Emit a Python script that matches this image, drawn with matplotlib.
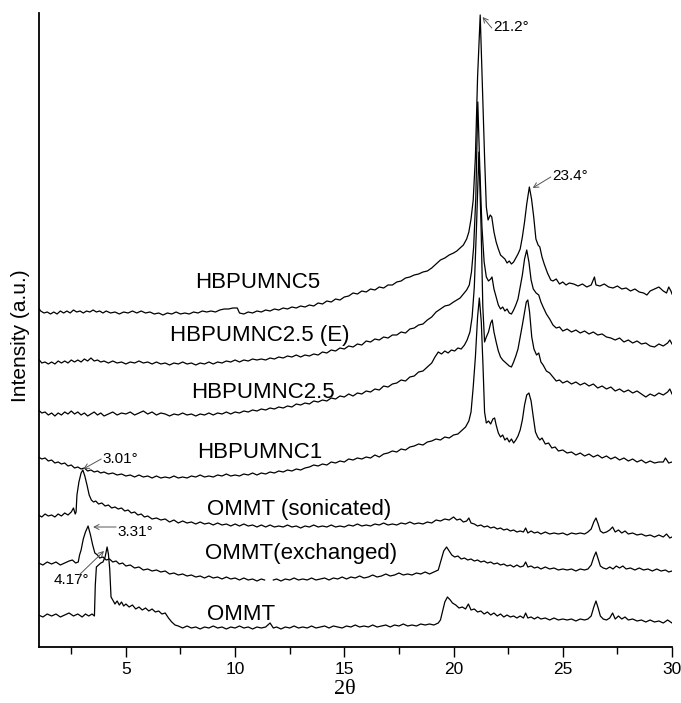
import numpy as np
import matplotlib
matplotlib.use("Agg")
import matplotlib.pyplot as plt

plt.rcParams["font.family"] = ["Liberation Sans", "DejaVu Sans"]

# XRD patterns, (2theta, stacked intensity a.u.)
ommt = [(1.0,32),(1.2,30),(1.4,33),(1.6,31),(1.8,33),(2.0,30),(2.2,32),(2.4,34),(2.6,31),(2.8,33),(3.0,30),(3.15,33),(3.3,31),(3.45,33),(3.56,31),(3.6,62),(3.65,80),(3.75,82),(3.85,84),(3.95,85),(4.05,90),(4.14,100),(4.2,93),(4.26,78),(4.32,50),(4.4,47),(4.5,43),(4.6,46),(4.7,42),(4.8,45),(4.9,41),(5.0,43),(5.15,40),(5.3,42),(5.45,38),(5.6,40),(5.75,37),(5.9,39),(6.05,36),(6.2,38),(6.35,35),(6.5,36),(6.65,33),(6.8,34),(6.95,29),(7.1,25),(7.25,22),(7.4,21),(7.6,19),(7.8,21),(8.0,19),(8.2,20),(8.4,18),(8.6,20),(8.8,19),(9.0,21),(9.2,19),(9.4,20),(9.6,18),(9.8,20),(10.0,19),(10.2,21),(10.4,19),(10.6,20),(10.8,18),(11.0,20),(11.2,19),(11.4,20),(11.6,24),(11.75,19),(11.9,20),(12.1,18),(12.3,20),(12.5,19),(12.7,21),(12.9,19),(13.1,20),(13.3,19),(13.5,21),(13.7,19),(13.9,20),(14.1,21),(14.3,19),(14.5,21),(14.7,20),(14.9,19),(15.1,21),(15.3,20),(15.5,22),(15.7,20),(15.9,21),(16.1,20),(16.3,22),(16.5,20),(16.7,21),(16.9,22),(17.1,20),(17.3,22),(17.5,21),(17.7,23),(17.9,21),(18.1,22),(18.3,21),(18.5,23),(18.7,22),(18.9,23),(19.1,22),(19.3,24),(19.4,27),(19.5,36),(19.6,45),(19.72,50),(19.85,47),(19.95,44),(20.1,42),(20.25,39),(20.4,40),(20.55,38),(20.68,43),(20.8,37),(20.95,38),(21.1,35),(21.25,36),(21.4,33),(21.55,35),(21.7,32),(21.85,34),(22.0,31),(22.15,33),(22.3,30),(22.45,32),(22.6,30),(22.75,31),(22.9,29),(23.05,31),(23.2,29),(23.3,34),(23.4,29),(23.55,30),(23.7,28),(23.85,30),(24.0,28),(24.2,29),(24.4,27),(24.6,29),(24.8,27),(25.0,28),(25.2,27),(25.4,28),(25.6,26),(25.8,28),(26.0,27),(26.15,28),(26.3,31),(26.42,40),(26.52,46),(26.62,39),(26.72,31),(26.85,28),(27.0,27),(27.15,29),(27.28,34),(27.4,28),(27.55,31),(27.7,28),(27.85,30),(28.0,27),(28.2,28),(28.4,26),(28.6,27),(28.8,25),(29.0,27),(29.2,25),(29.4,26),(29.6,24),(29.8,27),(30.0,24)]

ommt_exch = [(1.0,84),(1.2,82),(1.4,85),(1.6,83),(1.8,85),(2.0,82),(2.2,84),(2.4,86),(2.55,87),(2.7,84),(2.82,85),(2.88,92),(2.95,97),(3.05,108),(3.15,115),(3.27,121),(3.38,112),(3.48,102),(3.58,94),(3.7,92),(3.8,89),(3.95,90),(4.1,87),(4.25,88),(4.4,85),(4.55,86),(4.7,83),(4.85,84),(5.0,81),(5.2,82),(5.4,79),(5.6,80),(5.8,77),(6.0,78),(6.2,76),(6.4,77),(6.6,75),(6.8,76),(7.0,73),(7.2,74),(7.4,72),(7.6,73),(7.8,71),(8.0,72),(8.2,70),(8.4,71),(8.6,69),(8.8,71),(9.0,69),(9.2,70),(9.4,68),(9.6,70),(9.8,68),(10.0,69),(10.2,67),(10.4,69),(10.6,67),(10.8,68),(11.0,66),(11.2,68),(11.35,67),(11.36,None),(11.74,None),(11.75,67),(11.9,68),(12.1,66),(12.3,68),(12.5,67),(12.7,69),(12.9,67),(13.1,68),(13.3,67),(13.5,69),(13.7,67),(13.9,68),(14.1,69),(14.3,67),(14.5,69),(14.7,68),(14.9,70),(15.1,68),(15.3,70),(15.5,69),(15.7,71),(15.9,69),(16.1,70),(16.3,72),(16.5,70),(16.7,71),(16.9,73),(17.1,71),(17.3,72),(17.5,74),(17.7,72),(17.9,73),(18.1,72),(18.3,74),(18.5,73),(18.7,75),(18.9,73),(19.1,75),(19.3,77),(19.42,86),(19.55,96),(19.68,100),(19.8,96),(19.92,92),(20.05,90),(20.2,91),(20.35,88),(20.5,89),(20.65,87),(20.8,88),(20.95,86),(21.1,87),(21.25,85),(21.4,86),(21.55,84),(21.7,85),(21.85,83),(22.0,84),(22.15,82),(22.3,83),(22.45,81),(22.6,82),(22.75,80),(22.9,82),(23.05,80),(23.2,81),(23.3,85),(23.4,80),(23.55,81),(23.7,79),(23.85,80),(24.0,78),(24.2,80),(24.4,78),(24.6,79),(24.8,77),(25.0,78),(25.2,77),(25.4,78),(25.6,76),(25.8,78),(26.0,77),(26.15,78),(26.3,82),(26.42,90),(26.52,95),(26.62,88),(26.72,81),(26.85,79),(27.0,78),(27.15,80),(27.3,78),(27.45,81),(27.6,79),(27.75,81),(27.9,78),(28.1,79),(28.3,77),(28.5,79),(28.7,77),(28.9,78),(29.1,76),(29.3,78),(29.5,76),(29.7,77),(29.85,75),(30.0,76)]

ommt_son = [(1.0,132),(1.15,130),(1.3,133),(1.45,131),(1.6,132),(1.75,130),(1.9,133),(2.05,131),(2.2,134),(2.35,132),(2.5,135),(2.6,139),(2.68,133),(2.72,135),(2.76,152),(2.85,165),(2.95,174),(3.03,177),(3.12,171),(3.22,162),(3.32,152),(3.42,147),(3.52,145),(3.62,146),(3.75,143),(3.9,144),(4.05,141),(4.2,142),(4.35,139),(4.5,140),(4.65,138),(4.8,139),(4.95,136),(5.1,137),(5.25,134),(5.4,135),(5.55,132),(5.7,133),(5.85,130),(6.0,131),(6.2,128),(6.4,129),(6.6,127),(6.8,128),(7.0,125),(7.2,127),(7.4,124),(7.6,126),(7.8,124),(8.0,125),(8.2,123),(8.4,125),(8.6,123),(8.8,124),(9.0,122),(9.2,124),(9.4,122),(9.6,123),(9.8,121),(10.0,123),(10.2,121),(10.4,123),(10.6,121),(10.8,122),(11.0,120),(11.2,122),(11.4,120),(11.6,122),(11.8,120),(12.0,121),(12.2,120),(12.4,122),(12.6,120),(12.8,121),(13.0,119),(13.2,121),(13.4,120),(13.6,122),(13.8,120),(14.0,121),(14.2,120),(14.4,122),(14.6,120),(14.8,121),(15.0,120),(15.2,122),(15.4,121),(15.6,123),(15.8,121),(16.0,122),(16.2,121),(16.4,123),(16.6,122),(16.8,124),(17.0,122),(17.2,123),(17.4,122),(17.6,124),(17.8,123),(18.0,125),(18.2,123),(18.4,124),(18.6,123),(18.8,125),(19.0,124),(19.2,127),(19.4,126),(19.6,128),(19.8,127),(20.0,130),(20.15,127),(20.3,128),(20.45,125),(20.6,126),(20.7,129),(20.8,124),(20.95,123),(21.1,121),(21.25,122),(21.4,120),(21.55,121),(21.7,119),(21.85,120),(22.0,118),(22.15,119),(22.3,117),(22.45,118),(22.6,116),(22.75,117),(22.9,115),(23.05,116),(23.2,115),(23.3,119),(23.4,114),(23.55,116),(23.7,114),(23.85,115),(24.0,113),(24.2,115),(24.4,113),(24.6,114),(24.8,113),(25.0,114),(25.2,112),(25.4,114),(25.6,113),(25.8,114),(26.0,113),(26.15,115),(26.3,118),(26.42,125),(26.52,129),(26.62,123),(26.72,116),(26.85,114),(27.0,115),(27.15,117),(27.28,120),(27.4,115),(27.55,117),(27.7,114),(27.85,116),(28.0,113),(28.2,114),(28.4,112),(28.6,113),(28.8,111),(29.0,112),(29.2,110),(29.4,112),(29.6,110),(29.75,113),(29.9,109),(30.0,110)]

nc1 = [(1.0,190),(1.15,188),(1.3,189),(1.45,186),(1.6,187),(1.75,184),(1.9,185),(2.05,183),(2.2,184),(2.35,181),(2.5,182),(2.65,179),(2.8,180),(2.95,178),(3.1,179),(3.25,176),(3.4,177),(3.55,175),(3.7,176),(3.85,174),(4.0,175),(4.2,173),(4.4,174),(4.6,172),(4.8,173),(5.0,171),(5.2,172),(5.4,170),(5.6,172),(5.8,170),(6.0,171),(6.2,169),(6.4,171),(6.6,169),(6.8,170),(7.0,169),(7.2,171),(7.4,169),(7.6,170),(7.8,169),(8.0,171),(8.2,170),(8.4,172),(8.6,170),(8.8,171),(9.0,170),(9.2,172),(9.4,171),(9.6,173),(9.8,171),(10.0,172),(10.2,171),(10.4,173),(10.6,172),(10.8,174),(11.0,172),(11.2,174),(11.4,173),(11.6,175),(11.8,174),(12.0,176),(12.2,175),(12.4,177),(12.6,176),(12.8,178),(13.0,177),(13.2,179),(13.4,180),(13.6,182),(13.8,181),(14.0,183),(14.2,182),(14.4,185),(14.6,184),(14.8,186),(15.0,185),(15.2,188),(15.4,187),(15.6,189),(15.8,188),(16.0,190),(16.2,189),(16.4,192),(16.6,190),(16.8,193),(17.0,194),(17.2,196),(17.4,195),(17.6,198),(17.8,197),(18.0,200),(18.2,201),(18.4,203),(18.6,202),(18.8,205),(19.0,206),(19.2,208),(19.4,207),(19.6,210),(19.8,209),(20.0,212),(20.2,213),(20.4,217),(20.55,220),(20.7,226),(20.8,235),(20.9,260),(21.0,290),(21.1,330),(21.18,349),(21.27,325),(21.35,280),(21.42,235),(21.5,224),(21.6,226),(21.7,223),(21.8,228),(21.88,229),(21.95,222),(22.05,214),(22.15,210),(22.25,212),(22.35,207),(22.45,209),(22.55,205),(22.65,208),(22.75,204),(22.85,207),(22.95,211),(23.05,217),(23.15,227),(23.25,242),(23.35,252),(23.45,254),(23.55,246),(23.65,230),(23.75,215),(23.85,210),(23.95,207),(24.05,209),(24.2,203),(24.35,204),(24.5,199),(24.65,200),(24.8,196),(25.0,197),(25.2,194),(25.4,195),(25.6,192),(25.8,194),(26.0,191),(26.2,193),(26.4,190),(26.6,192),(26.8,189),(27.0,191),(27.2,188),(27.4,190),(27.6,187),(27.8,189),(28.0,186),(28.2,188),(28.4,185),(28.6,187),(28.8,184),(29.0,186),(29.2,184),(29.4,185),(29.6,185),(29.7,189),(29.85,184),(30.0,185)]

nc25 = [(1.0,237),(1.15,234),(1.3,235),(1.45,232),(1.6,234),(1.75,231),(1.9,234),(2.05,232),(2.2,235),(2.35,233),(2.5,236),(2.65,233),(2.8,235),(2.95,232),(3.1,234),(3.25,231),(3.4,233),(3.55,235),(3.7,232),(3.85,234),(4.0,231),(4.2,233),(4.4,235),(4.6,232),(4.8,234),(5.0,233),(5.2,235),(5.4,232),(5.6,234),(5.8,236),(6.0,233),(6.2,235),(6.4,232),(6.6,234),(6.8,233),(7.0,231),(7.2,233),(7.4,232),(7.6,234),(7.8,232),(8.0,233),(8.2,231),(8.4,233),(8.6,232),(8.8,234),(9.0,232),(9.2,234),(9.4,233),(9.6,235),(9.8,233),(10.0,235),(10.2,234),(10.4,236),(10.6,235),(10.8,237),(11.0,236),(11.2,238),(11.4,237),(11.6,239),(11.8,238),(12.0,240),(12.2,239),(12.4,241),(12.6,240),(12.8,243),(13.0,242),(13.2,244),(13.4,243),(13.6,246),(13.8,245),(14.0,247),(14.2,246),(14.4,249),(14.6,248),(14.8,251),(15.0,250),(15.2,253),(15.4,251),(15.6,254),(15.8,253),(16.0,256),(16.2,255),(16.4,258),(16.6,257),(16.8,261),(17.0,260),(17.2,263),(17.4,264),(17.6,267),(17.8,266),(18.0,270),(18.2,271),(18.4,275),(18.6,276),(18.8,280),(19.0,284),(19.15,290),(19.3,295),(19.45,293),(19.6,296),(19.75,294),(19.9,297),(20.05,296),(20.2,299),(20.35,298),(20.5,302),(20.62,307),(20.75,315),(20.85,330),(20.95,360),(21.05,420),(21.16,495),(21.26,420),(21.34,340),(21.42,305),(21.5,310),(21.6,315),(21.7,324),(21.77,327),(21.85,315),(21.95,305),(22.05,296),(22.15,290),(22.25,287),(22.35,285),(22.45,283),(22.55,281),(22.65,280),(22.75,285),(22.85,291),(22.95,298),(23.05,310),(23.15,322),(23.25,335),(23.33,345),(23.4,347),(23.48,335),(23.58,310),(23.68,298),(23.8,292),(23.9,294),(24.0,285),(24.1,282),(24.25,276),(24.4,274),(24.55,270),(24.7,266),(24.85,267),(25.0,264),(25.2,266),(25.4,263),(25.6,265),(25.8,262),(26.0,264),(26.2,261),(26.4,263),(26.6,259),(26.8,261),(27.0,258),(27.2,260),(27.4,256),(27.6,258),(27.8,255),(28.0,257),(28.2,254),(28.4,256),(28.6,253),(28.8,250),(29.0,253),(29.2,251),(29.4,254),(29.6,252),(29.8,255),(29.9,258),(30.0,253)]

nc25e = [(1.0,288),(1.15,284),(1.3,285),(1.45,283),(1.6,285),(1.75,283),(1.9,286),(2.05,284),(2.2,286),(2.35,284),(2.5,287),(2.65,285),(2.8,287),(2.95,285),(3.1,288),(3.25,286),(3.4,289),(3.55,286),(3.7,287),(3.85,285),(4.0,286),(4.2,284),(4.4,286),(4.6,284),(4.8,285),(5.0,283),(5.2,285),(5.4,284),(5.6,286),(5.8,284),(6.0,285),(6.2,283),(6.4,285),(6.6,283),(6.8,284),(7.0,282),(7.2,284),(7.4,283),(7.6,285),(7.8,283),(8.0,284),(8.2,282),(8.4,284),(8.6,283),(8.8,285),(9.0,283),(9.2,285),(9.4,284),(9.6,286),(9.8,285),(10.0,287),(10.2,285),(10.4,287),(10.6,286),(10.8,288),(11.0,287),(11.2,288),(11.4,287),(11.6,289),(11.8,288),(12.0,290),(12.2,289),(12.4,291),(12.6,290),(12.8,292),(13.0,290),(13.2,292),(13.4,291),(13.6,293),(13.8,292),(14.0,295),(14.2,294),(14.4,297),(14.6,296),(14.8,299),(15.0,298),(15.2,301),(15.4,300),(15.6,303),(15.8,302),(16.0,306),(16.2,305),(16.4,308),(16.6,307),(16.8,310),(17.0,309),(17.2,312),(17.4,312),(17.6,315),(17.8,314),(18.0,318),(18.2,319),(18.4,322),(18.6,323),(18.8,327),(19.0,330),(19.2,335),(19.4,338),(19.6,341),(19.8,342),(20.0,345),(20.15,347),(20.3,349),(20.45,353),(20.6,357),(20.72,362),(20.82,375),(20.92,400),(21.02,450),(21.11,545),(21.2,480),(21.3,420),(21.4,385),(21.5,370),(21.6,366),(21.7,368),(21.76,370),(21.85,358),(21.95,350),(22.05,342),(22.15,338),(22.25,340),(22.35,336),(22.45,338),(22.55,334),(22.65,333),(22.75,337),(22.85,342),(22.95,348),(23.05,360),(23.15,372),(23.25,388),(23.35,397),(23.45,385),(23.55,367),(23.65,358),(23.78,354),(23.9,352),(24.0,345),(24.1,340),(24.25,333),(24.4,328),(24.55,322),(24.7,319),(24.85,320),(25.0,316),(25.2,318),(25.4,315),(25.6,317),(25.8,314),(26.0,316),(26.2,313),(26.4,315),(26.6,312),(26.8,313),(27.0,310),(27.2,309),(27.4,307),(27.6,309),(27.8,305),(28.0,307),(28.2,304),(28.4,306),(28.6,303),(28.8,304),(29.0,301),(29.2,300),(29.4,303),(29.6,301),(29.8,304),(29.9,307),(30.0,303)]

nc5 = [(1.0,339),(1.1,336),(1.25,334),(1.4,335),(1.55,333),(1.7,335),(1.85,333),(2.0,336),(2.15,334),(2.3,336),(2.45,334),(2.6,337),(2.75,335),(2.9,336),(3.05,334),(3.2,336),(3.35,335),(3.5,337),(3.65,335),(3.8,336),(3.95,334),(4.1,336),(4.3,334),(4.5,335),(4.7,333),(4.9,335),(5.1,334),(5.3,336),(5.5,334),(5.7,336),(5.9,334),(6.1,335),(6.3,333),(6.5,334),(6.7,332),(6.9,334),(7.1,333),(7.3,335),(7.5,333),(7.7,334),(7.9,333),(8.1,335),(8.3,334),(8.5,336),(8.7,335),(8.9,336),(9.1,335),(9.3,337),(9.5,338),(9.7,338),(9.9,339),(10.1,339),(10.2,334),(10.4,333),(10.6,335),(10.8,334),(11.0,336),(11.2,335),(11.4,337),(11.6,336),(11.8,338),(12.0,337),(12.2,339),(12.4,338),(12.6,340),(12.8,339),(13.0,341),(13.2,340),(13.4,342),(13.6,341),(13.8,344),(14.0,343),(14.2,346),(14.4,345),(14.6,348),(14.8,347),(15.0,350),(15.2,351),(15.4,354),(15.6,353),(15.8,356),(16.0,355),(16.2,358),(16.4,357),(16.6,360),(16.8,359),(17.0,362),(17.2,362),(17.4,365),(17.6,366),(17.8,369),(18.0,370),(18.2,372),(18.4,373),(18.6,375),(18.8,376),(19.0,379),(19.2,383),(19.4,387),(19.6,389),(19.8,392),(20.0,394),(20.15,396),(20.3,399),(20.45,402),(20.6,408),(20.7,415),(20.8,428),(20.9,447),(21.0,490),(21.1,570),(21.22,632),(21.32,560),(21.42,490),(21.5,440),(21.58,427),(21.68,432),(21.75,430),(21.85,415),(21.95,405),(22.05,398),(22.15,392),(22.25,390),(22.35,388),(22.45,384),(22.55,386),(22.65,383),(22.75,385),(22.85,389),(22.95,393),(23.05,398),(23.15,410),(23.25,425),(23.35,443),(23.47,460),(23.57,448),(23.67,430),(23.77,408),(23.87,402),(23.95,400),(24.05,390),(24.15,383),(24.3,374),(24.45,367),(24.55,366),(24.7,368),(24.85,363),(25.0,365),(25.15,362),(25.3,364),(25.5,363),(25.7,361),(25.9,363),(26.1,360),(26.3,362),(26.45,370),(26.52,362),(26.7,361),(26.9,363),(27.1,360),(27.3,359),(27.5,361),(27.7,358),(27.9,359),(28.1,356),(28.3,358),(28.5,355),(28.7,354),(28.85,352),(29.0,356),(29.2,358),(29.4,360),(29.6,356),(29.75,354),(29.85,360),(29.95,356),(30.0,353)]

curves = [ommt, ommt_exch, ommt_son, nc1, nc25, nc25e, nc5]

# sample names and where they sit (2theta, intensity)
names = ["OMMT", "OMMT(exchanged)", "OMMT (sonicated)", "HBPUMNC1",
         "HBPUMNC2.5", "HBPUMNC2.5 (E)", "HBPUMNC5"]
name_x = [8.7, 8.6, 8.7, 8.25, 8.0, 7.0, 8.15]
name_y = [32, 94, 137, 195, 254, 312, 365]

# peak labels: text, text position, arrow tail, arrow head
peak_txt = ["21.2°", "23.4°", "3.01°", "3.31°", "4.17°"]
peak_txt_xy = [(21.8, 620), (24.5, 471), (3.92, 188), (4.6, 115), (1.67, 67)]
peak_tail = [(21.75, 619), (24.45, 470), (3.87, 188), (4.55, 120), (2.86, 72)]
peak_head = [(21.33, 630), (23.62, 459), (3.05, 178), (3.5, 120), (4.0, 96)]

fig = plt.figure(figsize=(6.81, 7.03), dpi=100)
ax = fig.add_axes([38.5/681, 56/703, 633.5/681, 634/703])

for c in curves:
    arr = np.array(c, dtype=float)
    ax.plot(arr[:, 0], arr[:, 1], color="black", lw=0.9)

for n, x, y in zip(names, name_x, name_y):
    ax.text(x, y, n, fontsize=16, va="center", ha="left")

for t, txy, tail, head in zip(peak_txt, peak_txt_xy, peak_tail, peak_head):
    ax.text(txy[0], txy[1], t, fontsize=11, va="center", ha="left")
    ax.annotate("", xy=head, xytext=tail,
                arrowprops=dict(arrowstyle="->,head_length=0.35,head_width=0.18",
                                color="#555555", lw=0.7, shrinkA=0, shrinkB=0))

ax.set_xlim(1, 30)
ax.set_ylim(0, 634)
ax.set_yticks([])
ax.set_xticks([5, 10, 15, 20, 25, 30])
ax.set_xticks([2.5, 7.5, 12.5, 17.5, 22.5, 27.5], minor=True)
ax.tick_params(axis="x", which="major", length=7, width=1, labelsize=12.5, pad=4)
ax.tick_params(axis="x", which="minor", length=5, width=1)
for s in ["top", "right"]:
    ax.spines[s].set_visible(False)
for s in ["left", "bottom"]:
    ax.spines[s].set_linewidth(1.3)

fig.text(345/681, 1 - 690/703, "2θ", fontsize=16, family="Liberation Serif",
         ha="center", va="center")
fig.text(21/681, 1 - 336/703, "Intensity (a.u.)", fontsize=15, rotation=90,
         ha="center", va="center")

fig.savefig("out.png", dpi=100)
